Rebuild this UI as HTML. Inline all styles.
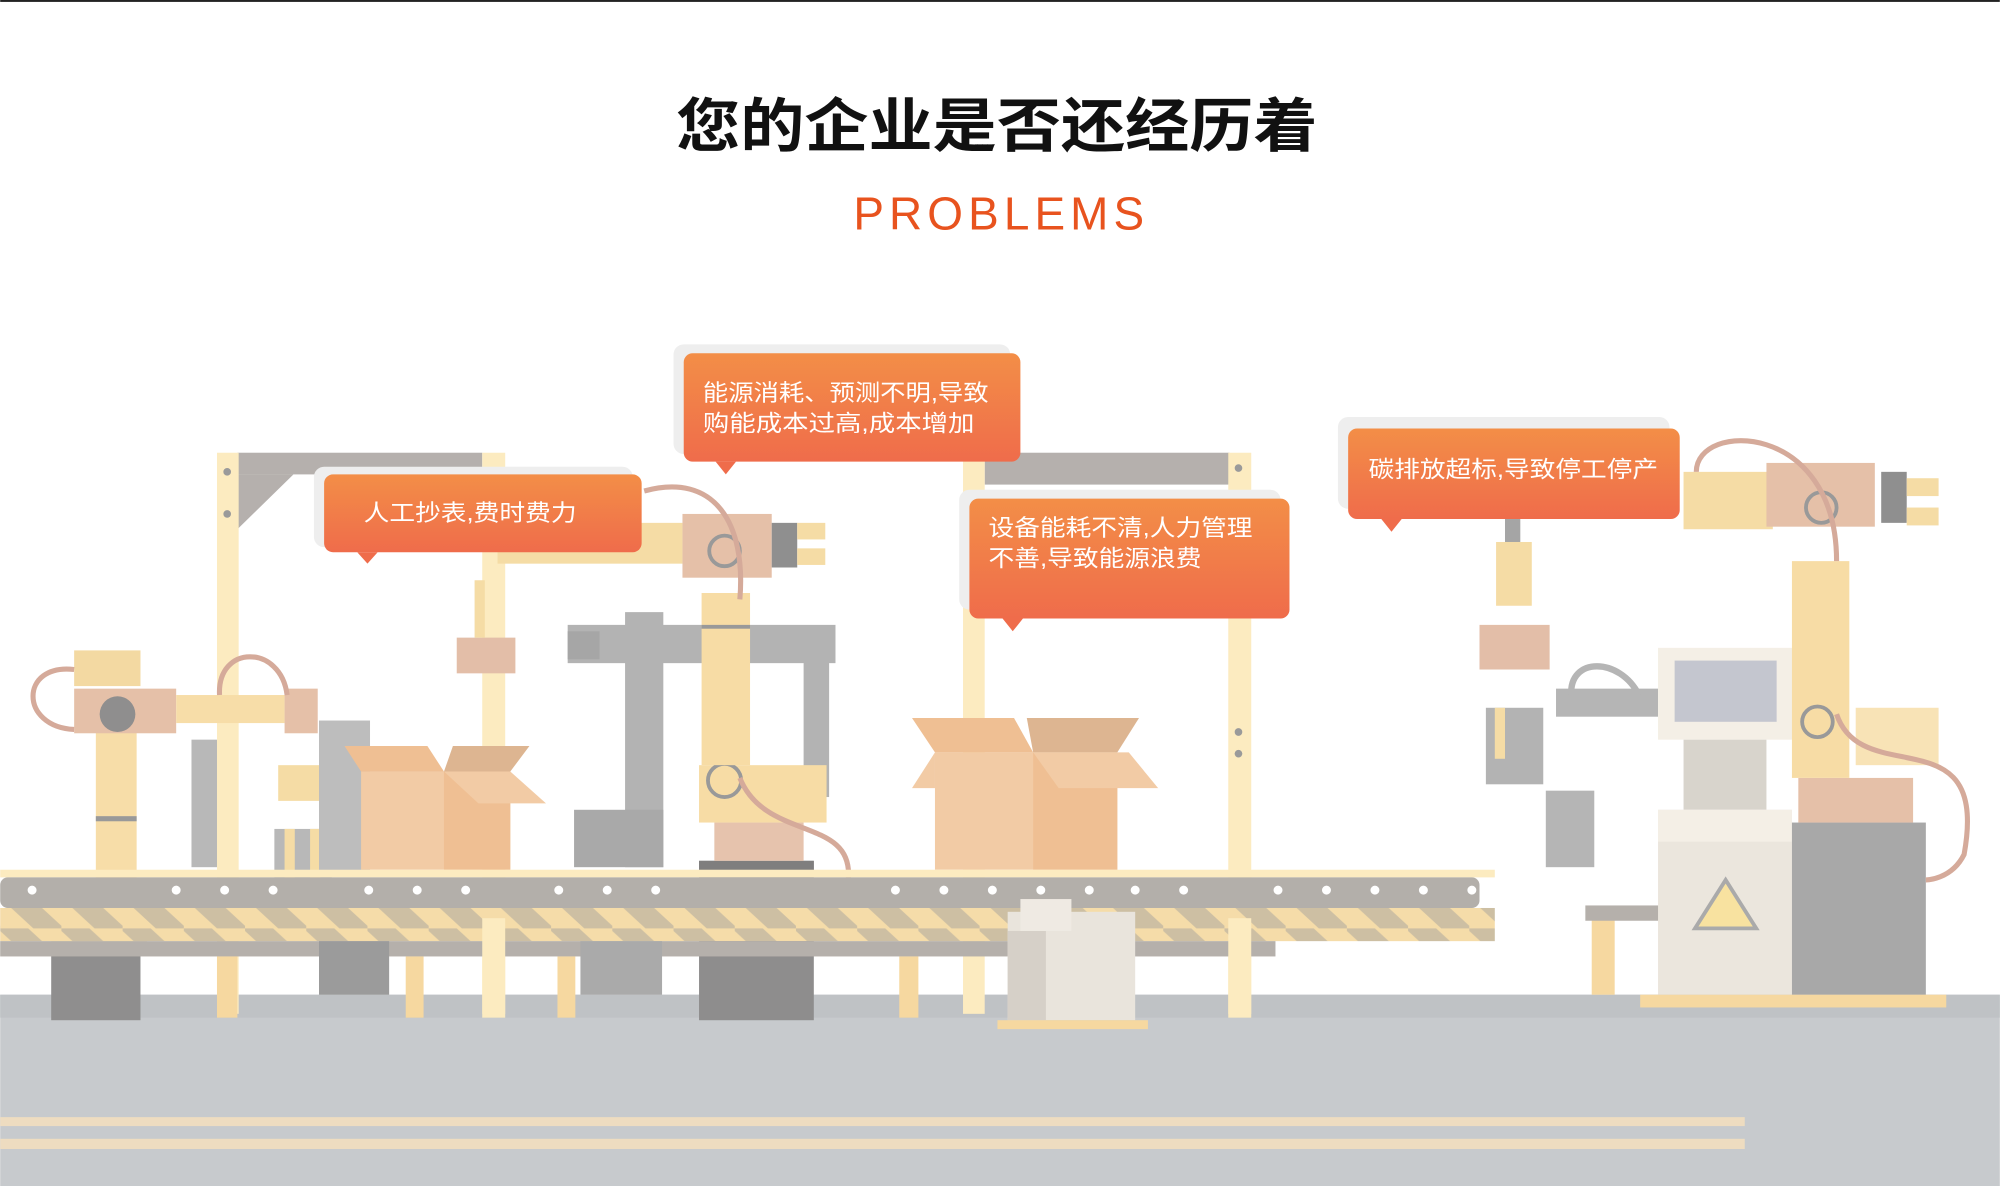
<!DOCTYPE html>
<html><head><meta charset="utf-8"><style>
html,body{margin:0;padding:0;background:#fff;}
svg{display:block;}
text{font-family:"Liberation Sans","Noto Sans CJK SC",sans-serif;}
</style></head><body>
<svg width="2000" height="1186" viewBox="0 0 1568 930" xmlns="http://www.w3.org/2000/svg">
<defs>
<linearGradient id="og" x1="0" y1="0" x2="0" y2="1"><stop offset="0" stop-color="#f38e47"/><stop offset="1" stop-color="#ef6c4b"/></linearGradient>
<pattern id="hz" width="48" height="26" patternUnits="userSpaceOnUse"><rect width="48" height="26" fill="#f5dca9"/><polygon points="0,0 22,0 48,24 48,26 26,26 0,2" fill="#cdbfa3"/></pattern>
</defs>
<rect x="0" y="0" width="1568" height="1.5" fill="#222"/>
<text x="530" y="115" textLength="503" lengthAdjust="spacingAndGlyphs" font-size="46" font-weight="bold" fill="#111">您的企业是否还经历着</text>
<text x="669" y="180" textLength="228" lengthAdjust="spacing" font-size="36" fill="#e8531e">PROBLEMS</text>

<!-- floor -->
<rect x="0" y="780" width="1568" height="150" fill="#c7cacd"/>
<rect x="0" y="780" width="1568" height="18" fill="#bfc2c5"/>
<rect x="0" y="876" width="1368" height="7" fill="#eedcc0"/>
<rect x="0" y="893" width="1368" height="8" fill="#eedcc0"/>

<!-- frame 1 -->
<rect x="186" y="355" width="192" height="17" fill="#b5b0ad"/>
<polygon points="186,372 230,372 186,415" fill="#b5b0ad"/>
<rect x="170" y="355" width="17" height="440" fill="#fcebc0"/>
<rect x="378" y="355" width="18" height="440" fill="#fcebc0"/>
<circle cx="178" cy="370" r="3" fill="#9a9a9a"/><circle cx="178" cy="403" r="3" fill="#9a9a9a"/>
<!-- frame 2 -->
<rect x="772" y="355" width="192" height="25" fill="#b5b0ad"/>
<rect x="755" y="355" width="17" height="440" fill="#fcebc0"/>
<rect x="963" y="355" width="18" height="440" fill="#fcebc0"/>
<circle cx="971" cy="367" r="3" fill="#9a9a9a"/><circle cx="971" cy="574" r="3" fill="#9a9a9a"/><circle cx="971" cy="591" r="3" fill="#9a9a9a"/>

<!-- left robot -->
<rect x="40" y="745" width="70" height="55" fill="#8f8e8e"/>
<rect x="55" y="730" width="50" height="15" fill="#e4bca5"/>
<rect x="75" y="560" width="32" height="150" fill="#f7dda8"/>
<rect x="75" y="640" width="32" height="4" fill="#999"/>
<rect x="58" y="510" width="52" height="28" fill="#f3d9a2"/>
<rect x="58" y="540" width="80" height="35" fill="#e5c0a8"/>
<rect x="138" y="545" width="85" height="22" fill="#f7dda8"/>
<rect x="223" y="540" width="26" height="35" fill="#e5c0a8"/>
<circle cx="92" cy="560" r="14" fill="#8f8e8e"/>
<path d="M58,525 C15,520 15,570 58,572" stroke="#d5aa9a" stroke-width="4" fill="none"/>
<path d="M172,545 C170,505 220,505 225,545" stroke="#d5aa9a" stroke-width="4" fill="none"/>
<rect x="40" y="690" width="75" height="50" fill="#fbe6b8"/>
<circle cx="92" cy="703" r="13" fill="#f6d8a0" stroke="#999" stroke-width="3"/>
<!-- gripper -->
<rect x="218" y="600" width="38" height="28" fill="#f5dca5"/>
<rect x="215" y="650" width="45" height="60" fill="#b8b8b8"/>
<rect x="223" y="650" width="8" height="60" fill="#f5dca5"/><rect x="243" y="650" width="8" height="60" fill="#f5dca5"/>
<rect x="150" y="580" width="20" height="100" fill="#b8b8b8"/>
<rect x="250" y="565" width="40" height="120" fill="#bdbdbd"/>
<!-- box1 -->
<rect x="283" y="605" width="117" height="77" fill="#f2cba5"/>
<rect x="348" y="605" width="52" height="77" fill="#efbf93"/>
<polygon points="270,585 335,585 348,605 283,605" fill="#efbf93"/>
<polygon points="348,605 400,605 428,630 375,630" fill="#f2cba5"/>
<polygon points="355,585 415,585 400,605 348,605" fill="#ddb591"/>
<!-- middle hanging -->
<rect x="358" y="500" width="46" height="28" fill="#e3bea8"/>
<rect x="372" y="455" width="8" height="45" fill="#f5dca5"/>

<!-- center gray robot -->
<rect x="490" y="480" width="30" height="200" fill="#b3b3b3"/>
<rect x="445" y="490" width="210" height="30" fill="#b3b3b3"/>
<rect x="445" y="495" width="25" height="22" fill="#a6a6a6"/>
<rect x="630" y="515" width="20" height="110" fill="#b3b3b3"/>
<rect x="450" y="635" width="70" height="45" fill="#a9a9a9"/>
<!-- box2 -->
<rect x="733" y="590" width="143" height="92" fill="#f2cba5"/>
<rect x="810" y="590" width="66" height="92" fill="#efbf93"/>
<polygon points="715,563 795,563 810,590 733,590" fill="#efbf93"/>
<polygon points="805,563 893,563 876,590 810,590" fill="#ddb591"/>
<polygon points="810,590 885,590 908,618 830,618" fill="#f2cba5"/>
<polygon points="733,590 715,618 733,618" fill="#f2cba5"/>

<!-- center yellow robot -->
<rect x="548" y="675" width="90" height="125" fill="#8e8d8d"/>
<rect x="548" y="675" width="90" height="10" fill="#7f7e7e"/>
<rect x="560" y="645" width="70" height="30" fill="#e6c3ad"/>
<rect x="548" y="600" width="100" height="45" fill="#f7dca5"/>
<circle cx="568" cy="612" r="13" fill="#f7dca5" stroke="#999" stroke-width="3"/>
<rect x="550" y="465" width="38" height="135" fill="#f7dca5"/>
<rect x="550" y="490" width="38" height="3" fill="#999"/>
<rect x="535" y="403" width="70" height="50" fill="#e5c0a8"/>
<rect x="390" y="410" width="145" height="32" fill="#f5dca5"/>
<rect x="605" y="410" width="20" height="35" fill="#8f8f8f"/>
<rect x="625" y="410" width="22" height="13" fill="#f5dca5"/><rect x="625" y="430" width="22" height="13" fill="#f5dca5"/>
<circle cx="568" cy="432" r="12" fill="#e5c0a8" stroke="#999" stroke-width="3"/>
<path d="M505,385 C560,370 585,410 580,470" stroke="#d5aa9a" stroke-width="4" fill="none"/>
<path d="M580,610 C600,660 670,640 665,690 C660,720 640,720 640,720" stroke="#d5aa9a" stroke-width="4" fill="none"/>

<!-- conveyor -->
<rect x="0" y="682" width="1172" height="6" fill="#fcebc0"/>
<rect x="0" y="688" width="1160" height="24" fill="#b3afaa" rx="6"/>
<g fill="#fff">
<circle cx="25" cy="698" r="3.5"/><circle cx="138" cy="698" r="3.5"/><circle cx="176" cy="698" r="3.5"/><circle cx="214" cy="698" r="3.5"/><circle cx="289" cy="698" r="3.5"/><circle cx="327" cy="698" r="3.5"/><circle cx="365" cy="698" r="3.5"/><circle cx="438" cy="698" r="3.5"/><circle cx="476" cy="698" r="3.5"/><circle cx="514" cy="698" r="3.5"/><circle cx="702" cy="698" r="3.5"/><circle cx="740" cy="698" r="3.5"/><circle cx="778" cy="698" r="3.5"/><circle cx="816" cy="698" r="3.5"/><circle cx="854" cy="698" r="3.5"/><circle cx="890" cy="698" r="3.5"/><circle cx="928" cy="698" r="3.5"/><circle cx="1002" cy="698" r="3.5"/><circle cx="1040" cy="698" r="3.5"/><circle cx="1078" cy="698" r="3.5"/><circle cx="1116" cy="698" r="3.5"/><circle cx="1154" cy="698" r="3.5"/>
</g>
<rect x="0" y="712" width="1172" height="26" fill="url(#hz)"/>
<rect x="0" y="738" width="1000" height="12" fill="#b5b0ab"/>
<g fill="#f6d8a0">
<rect x="170" y="750" width="16" height="48"/><rect x="318" y="750" width="14" height="48"/><rect x="437" y="750" width="14" height="48"/><rect x="705" y="750" width="15" height="48"/><rect x="1248" y="720" width="18" height="60"/>
</g>
<rect x="250" y="738" width="55" height="42" fill="#9b9b9b"/>
<rect x="455" y="738" width="64" height="42" fill="#aaa"/>
<rect x="378" y="720" width="18" height="78" fill="#fcebc0"/><rect x="963" y="720" width="18" height="78" fill="#fcebc0"/>
<!-- cabinet -->
<rect x="790" y="715" width="100" height="85" fill="#e9e4dc"/>
<rect x="790" y="730" width="30" height="70" fill="#d6d0c8"/>
<rect x="800" y="705" width="40" height="25" fill="#efeae3"/>
<rect x="782" y="800" width="118" height="7" fill="#f6d8a0"/>

<!-- right area -->
<rect x="1243" y="710" width="60" height="12" fill="#b5b0ab"/>
<rect x="1180" y="405" width="12" height="20" fill="#a5a5a5"/>
<rect x="1160" y="490" width="55" height="35" fill="#e3bea8"/>
<rect x="1173" y="425" width="28" height="50" fill="#f5dca5"/>
<rect x="1165" y="555" width="45" height="60" fill="#b3b3b3"/>
<rect x="1172" y="555" width="8" height="40" fill="#f5dca5"/>
<rect x="1220" y="540" width="80" height="22" fill="#b5b5b5"/>
<rect x="1212" y="620" width="38" height="60" fill="#b5b5b5"/>
<path d="M1232,545 C1230,515 1270,515 1285,545" stroke="#b5b5b5" stroke-width="5" fill="none"/>
<rect x="1300" y="508" width="105" height="72" fill="#f4efe6"/>
<rect x="1313" y="518" width="80" height="48" fill="#c4c6cf"/>
<rect x="1320" y="580" width="65" height="55" fill="#d8d4cc"/>
<rect x="1300" y="635" width="105" height="145" fill="#ebe6dd"/>
<rect x="1300" y="635" width="105" height="25" fill="#f4efe6"/>
<polygon points="1353,690 1377,728 1329,728" fill="#f8e2a0" stroke="#aaa" stroke-width="3"/>
<rect x="1405" y="645" width="105" height="135" fill="#a8a8a8"/>
<rect x="1410" y="610" width="90" height="35" fill="#e5c0a8"/>
<rect x="1405" y="440" width="45" height="170" fill="#f7dca5"/>
<circle cx="1425" cy="566" r="12" fill="#f7dca5" stroke="#999" stroke-width="3"/>
<rect x="1455" y="555" width="65" height="45" fill="#f8e3b6"/>
<rect x="1320" y="370" width="70" height="45" fill="#f5dca5"/>
<rect x="1385" y="363" width="85" height="50" fill="#e5c0a8"/>
<circle cx="1428" cy="398" r="12" fill="#e5c0a8" stroke="#999" stroke-width="3"/>
<rect x="1475" y="370" width="20" height="40" fill="#8f8f8f"/>
<rect x="1495" y="375" width="25" height="14" fill="#f5dca5"/><rect x="1495" y="398" width="25" height="14" fill="#f5dca5"/>
<path d="M1330,370 C1330,330 1440,330 1440,440" stroke="#d5aa9a" stroke-width="4" fill="none"/>
<path d="M1440,560 C1460,620 1560,560 1540,670 C1530,690 1510,690 1510,690" stroke="#d5aa9a" stroke-width="4" fill="none"/>
<rect x="1286" y="780" width="240" height="10" fill="#f6d8a0"/>

<!-- bubbles -->
<g>
<rect x="246" y="366" width="250" height="63" rx="8" fill="#eeeeee"/>
<rect x="254" y="372" width="249" height="61" rx="7" fill="url(#og)"/>
<polygon points="280,433 296,433 288,442" fill="#ef6c4b"/>
<text x="285" y="408" textLength="167" lengthAdjust="spacingAndGlyphs" font-size="18" fill="#fff">人工抄表,费时费力</text>
</g>
<g>
<rect x="528" y="270" width="264" height="86" rx="8" fill="#eeeeee"/>
<rect x="536" y="277" width="264" height="85" rx="7" fill="url(#og)"/>
<polygon points="561,362 577,362 569,372" fill="#ef6c4b"/>
<text x="551" y="314" textLength="224" lengthAdjust="spacingAndGlyphs" font-size="18" fill="#fff">能源消耗、预测不明,导致</text>
<text x="551" y="338" textLength="213" lengthAdjust="spacingAndGlyphs" font-size="18" fill="#fff">购能成本过高,成本增加</text>
</g>
<g>
<rect x="752" y="384" width="252" height="94" rx="8" fill="#eeeeee"/>
<rect x="760" y="391" width="251" height="94" rx="7" fill="url(#og)"/>
<polygon points="786,485 802,485 794,495" fill="#ef6c4b"/>
<text x="775" y="420" textLength="207" lengthAdjust="spacingAndGlyphs" font-size="18" fill="#fff">设备能耗不清,人力管理</text>
<text x="775" y="444" textLength="167" lengthAdjust="spacingAndGlyphs" font-size="18" fill="#fff">不善,导致能源浪费</text>
</g>
<g>
<rect x="1049" y="327" width="260" height="72" rx="8" fill="#eeeeee"/>
<rect x="1057" y="336" width="260" height="71" rx="7" fill="url(#og)"/>
<polygon points="1083,407 1099,407 1091,417" fill="#ef6c4b"/>
<text x="1073" y="374" textLength="227" lengthAdjust="spacingAndGlyphs" font-size="18" fill="#fff">碳排放超标,导致停工停产</text>
</g>
</svg>
</body></html>
